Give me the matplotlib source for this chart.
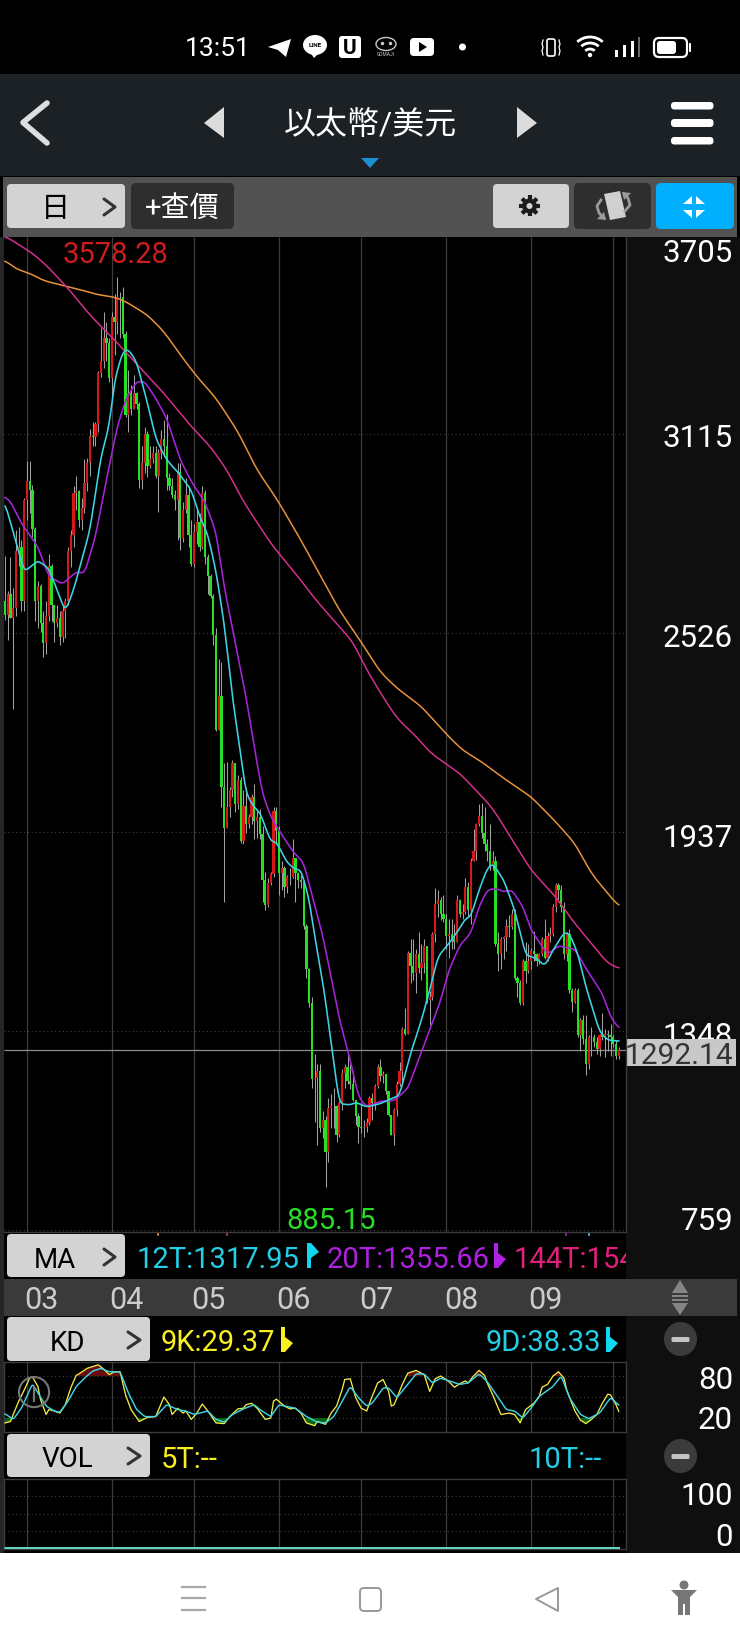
import numpy as np
import matplotlib
matplotlib.use("Agg")
import matplotlib.pyplot as plt
from matplotlib.patches import FancyBboxPatch, Rectangle, Polygon, Circle, Arc, Ellipse

plt.rcParams['font.family'] = ['Roboto', 'Noto Sans CJK TC', 'DejaVu Sans']

W, H = 740, 1644
DPI = 100

# daily candles, Feb 21 -> Oct 3
opens = [
    2620, 2578, 2640, 2570, 2600, 2770, 2780, 2620,
    2920, 2975, 2950, 2835, 2620, 2665, 2555, 2495, 2575, 2725, 2610, 2555, 2570, 2515, 2590, 2620, 2770, 2815, 2940, 2945, 2860, 2895, 2970, 3030, 3110, 3105, 3145, 3295, 3330, 3400, 3385,
    3280, 3460, 3445, 3520, 3520, 3410, 3170, 3235, 3190, 3235, 3205, 2980, 3030, 3115, 3020, 3040, 3060, 2990, 3060, 3100, 3080, 2985, 2960, 2935, 2920, 3003, 2806, 2890, 2935, 2815,
    2730, 2825, 2855, 2780, 2940, 2750, 2695, 2635, 2520, 2240, 2340, 2070, 1950, 2010, 2060, 2140, 2020, 2090, 1910, 2015, 1960, 1980, 2040, 1970, 1980, 1930, 1795, 1720, 1785, 1812, 2000,
    1940, 1815, 1830, 1775, 1805, 1805, 1860, 1815, 1795, 1790, 1660, 1530, 1430, 1205, 1210, 1230, 1060, 1085, 990, 1120, 1125, 1125, 1040, 1135, 1225, 1240, 1200, 1190, 1145, 1095,
    1065, 1060, 1065, 1075, 1150, 1135, 1185, 1240, 1215, 1220, 1170, 1100, 1040, 1115, 1190, 1230, 1355, 1340, 1580, 1540, 1520, 1575, 1535, 1550, 1600, 1440, 1450, 1635, 1725, 1735, 1695,
    1680, 1630, 1635, 1620, 1610, 1735, 1695, 1700, 1775, 1705, 1850, 1880, 1960, 1985, 1935, 1900, 1880, 1835, 1850, 1605, 1575, 1620, 1625, 1660, 1655, 1695, 1505, 1490, 1430, 1555, 1525,
    1555, 1585, 1575, 1555, 1575, 1620, 1565, 1630, 1635, 1715, 1780, 1765, 1715, 1575, 1635, 1470, 1435, 1470, 1335, 1380, 1325, 1250, 1330, 1330, 1315, 1295, 1335, 1330, 1340, 1335,
    1330, 1310, 1275,
]
closes = [
    2578, 2640, 2570, 2600, 2770, 2780, 2620, 2920,
    2975, 2950, 2835, 2620, 2665, 2555, 2495, 2575, 2725, 2610, 2555, 2570, 2515, 2590, 2620, 2770, 2815, 2940, 2945, 2860, 2895, 2970, 3030, 3110, 3105, 3145, 3295, 3330, 3400, 3385, 3280,
    3460, 3445, 3520, 3520, 3410, 3170, 3235, 3190, 3235, 3205, 2980, 3030, 3115, 3020, 3040, 3060, 2990, 3060, 3100, 3080, 2985, 2960, 2935, 2920, 3003, 2806, 2890, 2935, 2815, 2730,
    2825, 2855, 2780, 2940, 2750, 2695, 2635, 2520, 2240, 2340, 2070, 1950, 2010, 2060, 2140, 2020, 2090, 1910, 2015, 1960, 1980, 2040, 1970, 1980, 1930, 1795, 1720, 1785, 1812, 2000, 1940,
    1815, 1830, 1775, 1805, 1805, 1860, 1815, 1795, 1790, 1660, 1530, 1430, 1205, 1210, 1230, 1060, 1085, 990, 1120, 1125, 1125, 1040, 1135, 1225, 1240, 1200, 1190, 1145, 1095, 1065,
    1060, 1065, 1075, 1150, 1135, 1185, 1240, 1215, 1220, 1170, 1100, 1040, 1115, 1190, 1230, 1355, 1340, 1580, 1540, 1520, 1575, 1535, 1550, 1600, 1440, 1450, 1635, 1725, 1735, 1695, 1680,
    1630, 1635, 1620, 1610, 1735, 1695, 1700, 1775, 1705, 1850, 1880, 1960, 1985, 1935, 1900, 1880, 1835, 1850, 1605, 1575, 1620, 1625, 1660, 1655, 1695, 1505, 1490, 1430, 1555, 1525, 1555,
    1585, 1575, 1555, 1575, 1620, 1565, 1630, 1635, 1715, 1780, 1765, 1715, 1575, 1635, 1470, 1435, 1470, 1335, 1380, 1325, 1250, 1330, 1330, 1315, 1295, 1335, 1330, 1340, 1335, 1330,
    1310, 1275, 1292.14,
]
highs = [
    2755, 2650, 2750, 2660, 2830, 2840, 2800, 2925,
    3035, 3035, 2965, 2840, 2680, 2670, 2590, 2620, 2760, 2730, 2610, 2610, 2590, 2610, 2630, 2780, 2830, 2960, 2990, 2950, 2925, 3040, 3045, 3130, 3150, 3150, 3300, 3430, 3477, 3445, 3400,
    3475, 3530, 3578.28, 3536, 3551, 3420, 3305, 3260, 3290, 3240, 3210, 3078, 3137, 3125, 3078, 3078, 3078, 3070, 3127, 3157, 3175, 3000, 2985, 2950, 3030, 3030, 2915, 2985, 2960, 2860,
    2850, 2890, 2880, 2960, 2950, 2760, 2700, 2640, 2540, 2450, 2440, 2140, 2145, 2070, 2150, 2140, 2105, 2100, 2060, 2060, 1990, 2050, 2080, 2000, 2005, 1955, 1820, 1800, 1820, 2010, 2010,
    1955, 1850, 1835, 1810, 1830, 1915, 1860, 1820, 1810, 1795, 1665, 1535, 1450, 1280, 1250, 1250, 1110, 1095, 1150, 1160, 1180, 1130, 1140, 1235, 1250, 1280, 1250, 1230, 1140, 1105,
    1135, 1085, 1090, 1155, 1165, 1190, 1250, 1265, 1230, 1220, 1170, 1100, 1120, 1200, 1255, 1360, 1415, 1585, 1620, 1620, 1590, 1640, 1605, 1620, 1600, 1465, 1640, 1772, 1765, 1745, 1750,
    1695, 1680, 1680, 1665, 1750, 1740, 1725, 1800, 1790, 1860, 1945, 1965, 2020, 2022, 2010, 1915, 1960, 1880, 1865, 1640, 1625, 1630, 1680, 1690, 1710, 1710, 1510, 1500, 1560, 1610, 1605,
    1595, 1645, 1580, 1580, 1625, 1680, 1640, 1655, 1725, 1785, 1785, 1780, 1730, 1640, 1650, 1475, 1475, 1475, 1385, 1395, 1395, 1335, 1360, 1340, 1330, 1340, 1400, 1355, 1350, 1370,
    1335, 1320, 1300,
]
lows = [
    2565, 2505, 2570, 2300, 2575, 2725, 2590, 2590,
    2860, 2880, 2810, 2560, 2540, 2530, 2455, 2465, 2560, 2560, 2500, 2545, 2490, 2500, 2510, 2610, 2720, 2780, 2890, 2840, 2830, 2880, 2945, 2990, 3080, 3080, 3120, 3285, 3310, 3330, 3270,
    3216, 3350, 3410, 3400, 3400, 3166, 3120, 3170, 3190, 3190, 2954, 2951, 3000, 2989, 3015, 3030, 2985, 2885, 3040, 3050, 2949, 2950, 2925, 2890, 2801, 2772, 2795, 2880, 2780, 2725,
    2720, 2790, 2770, 2775, 2730, 2640, 2630, 2490, 2235, 2240, 2010, 1731, 1950, 1980, 2040, 1995, 2005, 1905, 1900, 1935, 1950, 1960, 1915, 1920, 1915, 1730, 1705, 1715, 1780, 1805, 1900,
    1750, 1765, 1745, 1755, 1780, 1800, 1730, 1770, 1770, 1650, 1505, 1420, 1180, 1078, 1011, 1050, 1030, 885.15, 960, 1060, 1060, 1020, 1035, 1115, 1180, 1190, 1175, 1140, 1070, 1015,
    1045, 1035, 1050, 1070, 1085, 1115, 1180, 1200, 1195, 1160, 1095, 1040, 1010, 1095, 1185, 1195, 1335, 1340, 1490, 1500, 1460, 1520, 1500, 1520, 1430, 1365, 1440, 1610, 1685, 1675, 1670,
    1590, 1565, 1590, 1590, 1610, 1685, 1680, 1695, 1685, 1665, 1850, 1855, 1955, 1920, 1880, 1850, 1825, 1825, 1600, 1525, 1530, 1560, 1585, 1625, 1650, 1500, 1450, 1425, 1425, 1490, 1520,
    1530, 1555, 1540, 1545, 1570, 1560, 1555, 1610, 1630, 1700, 1730, 1700, 1560, 1555, 1460, 1405, 1430, 1330, 1290, 1310, 1217, 1235, 1275, 1300, 1280, 1275, 1320, 1270, 1290, 1275,
    1300, 1265, 1265,
]

# moving averages
ma12_days = [0, 4, 7, 12, 16, 22, 25, 27, 31, 35, 38, 40, 43, 45, 48, 52, 55, 59, 63, 68, 71, 74, 77, 80, 83, 86, 88, 91, 93, 97, 99, 103, 106, 108, 111, 113, 116, 119, 122, 126, 128, 132, 137, 144, 148, 152, 155, 158, 162, 166, 168, 170, 173, 176, 178, 182, 186, 190, 194, 197, 200, 204, 206, 209, 212, 217, 220, 224]
ma12_vals = [2910, 2796, 2707, 2740, 2717, 2589, 2653, 2712, 2831, 3048, 3137, 3275, 3359, 3366, 3329, 3206, 3102, 3038, 3003, 2949, 2872, 2818, 2709, 2553, 2336, 2166, 2050, 2009, 1996, 1908, 1908, 1846, 1826, 1826, 1738, 1629, 1493, 1316, 1133, 1129, 1137, 1123, 1133, 1158, 1281, 1380, 1469, 1568, 1607, 1652, 1681, 1686, 1765, 1829, 1844, 1795, 1706, 1573, 1563, 1540, 1587, 1639, 1637, 1578, 1479, 1346, 1321, 1318]
ma20_days = [0, 2, 6, 9, 12, 16, 21, 26, 29, 33, 37, 41, 44, 48, 51, 55, 59, 64, 68, 73, 77, 80, 84, 88, 91, 94, 97, 100, 105, 109, 112, 116, 119, 122, 126, 129, 132, 137, 142, 147, 152, 155, 159, 162, 166, 170, 173, 176, 179, 182, 185, 189, 192, 197, 198, 202, 208, 212, 218, 221, 224]
ma20_vals = [2929, 2915, 2850, 2816, 2781, 2693, 2671, 2707, 2702, 2811, 2979, 3137, 3216, 3270, 3270, 3221, 3161, 3038, 2974, 2913, 2825, 2662, 2499, 2336, 2186, 2050, 1982, 1942, 1880, 1846, 1751, 1629, 1507, 1384, 1262, 1153, 1123, 1140, 1142, 1178, 1286, 1350, 1439, 1528, 1602, 1637, 1716, 1765, 1770, 1760, 1765, 1716, 1647, 1587, 1575, 1600, 1590, 1533, 1459, 1390, 1356]
ma144_days = [0, 10, 15, 23, 31, 40, 49, 58, 68, 75, 81, 87, 97, 108, 113, 127, 132, 138, 143, 150, 155, 159, 166, 173, 178, 184, 192, 201, 207, 215, 220, 224]
ma144_vals = [3701, 3650, 3615, 3546, 3467, 3393, 3314, 3235, 3137, 3077, 3008, 2915, 2791, 2682, 2628, 2499, 2417, 2336, 2274, 2220, 2173, 2150, 2110, 2051, 2007, 1928, 1824, 1745, 1676, 1597, 1548, 1533]
long_ma_days = [0, 4, 9, 14, 23, 27, 34, 40, 44, 52, 58, 64, 70, 77, 85, 92, 99, 107, 116, 122, 130, 137, 143, 152, 161, 167, 173, 182, 192, 201, 208, 214, 224]
long_ma_vals = [3630, 3603, 3591, 3569, 3551, 3543, 3527, 3520, 3507, 3467, 3418, 3349, 3285, 3221, 3122, 3008, 2925, 2815, 2682, 2594, 2499, 2410, 2363, 2308, 2227, 2179, 2150, 2096, 2041, 1967, 1903, 1814, 1716]

# KD
k_days = [0, 2, 3, 5, 7, 9, 10, 12, 13, 15, 16, 18, 20, 22, 24, 26, 27, 30, 34, 36, 38, 40, 42, 44, 46, 49, 52, 55, 58, 60, 61, 63, 65, 66, 68, 70, 72, 74, 77, 80, 82, 85, 87, 88, 90, 92, 95, 97, 98, 99, 102, 104, 106, 108, 110, 113, 114, 117, 119, 121, 123, 124, 126, 128, 130, 132, 134, 136, 138, 140, 141, 142, 145, 147, 150, 153, 155, 157, 159, 162, 164, 166, 168, 169, 171, 173, 175, 176, 178, 180, 181, 184, 186, 188, 190, 193, 195, 196, 198, 200, 202, 204, 205, 208, 210, 212, 214, 216, 218, 220, 221, 223, 224]
k_vals = [13, 15, 25, 44, 60, 77, 79, 65, 46, 25, 32, 30, 27, 39, 63, 81, 83, 91, 96, 90, 82, 86, 86, 53, 32, 15, 21, 22, 50, 39, 25, 34, 27, 30, 18, 27, 40, 30, 13, 12, 22, 33, 34, 39, 41, 34, 18, 20, 44, 47, 37, 33, 34, 27, 13, 9, 15, 11, 27, 37, 60, 75, 76, 49, 34, 30, 51, 70, 75, 58, 37, 39, 68, 84, 88, 82, 58, 76, 80, 72, 64, 69, 73, 70, 80, 88, 81, 70, 53, 34, 25, 27, 25, 13, 32, 41, 51, 64, 68, 80, 86, 77, 60, 30, 17, 12, 18, 25, 41, 54, 53, 39, 29.37]
d_days = [0, 3, 6, 9, 10, 12, 15, 18, 20, 23, 26, 29, 32, 35, 38, 42, 45, 48, 51, 55, 59, 63, 66, 69, 74, 77, 80, 83, 87, 91, 93, 97, 100, 102, 106, 110, 114, 117, 120, 123, 126, 129, 132, 134, 138, 140, 143, 147, 150, 153, 156, 159, 162, 166, 169, 173, 176, 180, 183, 186, 189, 192, 195, 200, 203, 206, 210, 213, 217, 221, 224]
d_vals = [26, 18, 34, 60, 69, 56, 37, 30, 28, 44, 65, 77, 87, 91, 86, 86, 56, 32, 22, 22, 39, 32, 30, 25, 30, 18, 14, 25, 33, 39, 32, 22, 39, 37, 34, 22, 14, 13, 22, 44, 65, 49, 37, 41, 63, 63, 49, 68, 83, 83, 70, 77, 73, 68, 70, 83, 72, 49, 32, 30, 20, 34, 51, 65, 80, 49, 25, 19, 27, 49, 38.33]

vol_days = [0, 224]
vol_vals = [0, 0]

month_days = [8, 39, 69, 100, 130, 161, 192, 222]
month_labels = ['03', '04', '05', '06', '07', '08', '09']
price_ticks = [3705, 3115, 2526, 1937, 1348, 759]
last_price = 1292.14

RED = '#d81818'
GREEN = '#25e025'
WICK = '#a0a0a0'
GRID = '#3c3c3c'
CYAN = '#3fd4e4'
PURPLE = '#a824d8'
PINK = '#d32f8c'
ORANGE = '#e8913a'
YELLOW = '#f0ea44'
LIGHT = '#d3d3d3'
PANEL = '#0f0f0f'

fig = plt.figure(figsize=(W / DPI, H / DPI), dpi=DPI, facecolor='black')


def axes_at(x0, y0, x1, y1, zorder=1):
    ax = fig.add_axes([x0 / W, 1 - y1 / H, (x1 - x0) / W, (y1 - y0) / H], zorder=zorder)
    ax.set_facecolor('black')
    ax.tick_params(left=False, bottom=False, labelleft=False, labelbottom=False)
    for s in ax.spines.values():
        s.set_color(GRID)
        s.set_linewidth(1.0)
    return ax


def smooth(line_days, line_vals, width=2.5):
    # the app draws these as soft curves, so round the corners between the read points
    grid = np.arange(line_days[0], line_days[-1] + 0.25, 0.25)
    y = np.interp(grid, line_days, line_vals)
    n = int(width / 0.25)
    kernel = np.hanning(2 * n + 1)
    kernel /= kernel.sum()
    padded = np.concatenate([np.full(n, y[0]), y, np.full(n, y[-1])])
    return grid, np.convolve(padded, kernel, mode='valid')


# layer for everything that is not a chart, in pixel coordinates
ui = fig.add_axes([0, 0, 1, 1], zorder=0)
ui.set_xlim(0, W)
ui.set_ylim(H, 0)
ui.axis('off')


def box(x0, y0, x1, y1, color, r=5, z=2, **kw):
    p = FancyBboxPatch((x0 + r, y0 + r), x1 - x0 - 2 * r, y1 - y0 - 2 * r,
                       boxstyle=f'round,pad={r},rounding_size={r}', fc=color, ec='none', zorder=z, **kw)
    ui.add_patch(p)
    return p


def rect(x0, y0, x1, y1, color, z=1):
    ui.add_patch(Rectangle((x0, y0), x1 - x0, y1 - y0, fc=color, ec='none', zorder=z))


def label(x, y, s, size, color='white', ha='center', z=5, **kw):
    return ui.text(x, y, s, fontsize=size, color=color, ha=ha, va='center_baseline', zorder=z, **kw)


def poly(points, color, z=4):
    ui.add_patch(Polygon(points, closed=True, fc=color, ec='none', zorder=z))


def chevron(x0, x1, y0, y1, color='#333333', lw=2.2, z=5):
    ui.plot([x0, x1, x0], [y0, (y0 + y1) / 2, y1], color=color, lw=lw, zorder=z, solid_capstyle='round')


def flag(x, y0, y1, color, up=True):
    # little arrow flag that follows the MA / KD values
    rect(x, y0, x + 4, y1, color, z=4)
    if up:
        poly([(x + 4, y0), (x + 12, y0 + 9), (x + 4, y0 + 15)], color)
    else:
        poly([(x + 4, y1 - 15), (x + 12, y1 - 9), (x + 4, y1)], color)


def minus_button(cx, cy):
    ui.add_patch(Ellipse((cx, cy), 33, 34, fc='#3b3b3b', ec='none', zorder=4))
    box(cx - 9, cy - 2, cx + 9, cy + 3, '#c4c4c4', r=1.5, z=5)


# ---- backgrounds ----
rect(0, 74, W, 176, '#1b2125')
rect(3, 177, 737, 237, '#525252')
rect(0, 237, 4, 1553, '#262626')
rect(626, 237, W, 1553, PANEL, z=3)
rect(4, 1279, 737, 1316, '#3a3a3a', z=4)
rect(0, 1553, W, H, 'white', z=3)

# ---- status bar ----
label(218, 47, '13:51', 19)
poly([(268, 47), (291, 39), (286, 57), (278, 50)], 'white')
ui.add_patch(Ellipse((315, 45), 24, 20, fc='white', ec='none', zorder=4))
poly([(310, 52), (320, 52), (314, 58)], 'white')
label(315, 45, 'LINE', 4.5, 'black', fontweight='bold')
box(339, 36, 361, 58, 'white', r=3, z=4)
label(350, 47, 'U', 15, 'black', fontweight='bold')
ui.add_patch(Ellipse((386, 44), 20, 13, fc='none', ec='#c8c8c8', lw=1, zorder=4))
ui.plot([382, 390], [43, 43], ls='none', marker='o', ms=1.5, color='#c8c8c8', zorder=5)
label(386, 54, 'GOMAJI', 3.5, '#c8c8c8')
box(410, 38, 434, 56, 'white', r=4, z=4)
poly([(419, 42), (419, 52), (427, 47)], 'black', z=5)
ui.add_patch(Circle((462.5, 47), 3.5, fc='white', ec='none', zorder=4))
ui.add_patch(FancyBboxPatch((547, 39), 8, 17, boxstyle='round,pad=0,rounding_size=2', fc='none', ec='white', lw=1.2, zorder=4))
ui.plot([543, 542, 543, 542, 543], [40, 44, 47, 51, 55], color='white', lw=0.9, zorder=4)
ui.plot([559, 560, 559, 560, 559], [40, 44, 47, 51, 55], color='white', lw=0.9, zorder=4)
for r in (7, 13, 19):
    ui.add_patch(Arc((590, 56), 2 * r, 2 * r, theta1=228, theta2=312, ec='white', lw=2, zorder=4))
ui.add_patch(Circle((590, 55), 2.2, fc='white', ec='none', zorder=4))
rect(615, 50, 617.5, 57, 'white', z=4)
rect(623, 45, 625.5, 57, 'white', z=4)
rect(631, 41, 633.5, 57, 'white', z=4)
rect(638, 37, 640, 57, '#666666', z=4)
ui.add_patch(FancyBboxPatch((654, 38), 33, 19, boxstyle='round,pad=0,rounding_size=5', fc='none', ec='white', lw=1.6, zorder=4))
box(657, 41, 676, 54, 'white', r=3, z=5)
box(689, 43, 691, 52, 'white', r=0.8, z=4)

# ---- header ----
ui.plot([47, 23, 47], [103, 122.5, 143], color='#dddddd', lw=4, solid_capstyle='round', solid_joinstyle='round', zorder=4)
poly([(224, 107), (204, 123), (224, 138)], '#dcdcdc')
poly([(517, 107), (537, 123), (517, 138)], '#dcdcdc')
label(370, 122, '以太幣/美元', 23)
for y0, y1 in [(102, 109.5), (119, 127), (137, 144.5)]:
    box(671, y0, 713.5, y1, 'white', r=3.5, z=4)
poly([(361, 158), (379, 158), (370, 168)], '#1e8fd0')

# ---- toolbar ----
box(7, 184, 125, 228, LIGHT, r=4)
label(55, 206, '日', 21, 'black')
chevron(104, 115, 199, 215)
box(131, 183, 234, 229, '#2e2e2e', r=5)
label(182, 206, '+查價', 21)
box(493, 184, 569, 228, LIGHT, r=4)
# gear
for a in np.deg2rad(np.arange(0, 180, 45)):
    dx, dy = 10.5 * np.cos(a), 10.5 * np.sin(a)
    ui.plot([529.5 - dx, 529.5 + dx], [206 - dy, 206 + dy], color='#1c1c1c', lw=3, zorder=4, solid_capstyle='butt')
ui.add_patch(Circle((529.5, 206), 7.5, fc='#1c1c1c', ec='none', zorder=5))
ui.add_patch(Circle((529.5, 206), 3, fc=LIGHT, ec='none', zorder=6))
box(574, 183, 651, 229, '#2e2e2e', r=5)
poly([(604, 194), (620, 191), (626, 217), (610, 220)], '#d0d0d0')
ui.plot([601, 597, 599, 604], [200, 206, 213, 218], color='#9a9a9a', lw=2, zorder=4)
ui.plot([625, 630, 628, 624], [211, 205, 198, 194], color='#9a9a9a', lw=2, zorder=4)
poly([(597, 219), (606, 220), (604, 212)], '#9a9a9a')
poly([(631, 193), (622, 192), (624, 200)], '#9a9a9a')
box(656, 183, 734, 229, '#00b0ff', r=5)
poly([(683, 204), (692, 204), (692, 196)], 'white')
poly([(705, 204), (696, 204), (696, 196)], 'white')
poly([(683, 210), (692, 210), (692, 218)], 'white')
poly([(705, 210), (696, 210), (696, 218)], 'white')

# ---- main chart ----
days = np.arange(len(closes))
xlim = (-0.37, 226.64)
price = axes_at(4, 237, 626, 1232)
price.set_xlim(xlim)
price.set_ylim(753, 3698)
price.spines['top'].set_visible(False)
price.spines['left'].set_visible(False)
price.vlines(month_days, 753, 3698, color=GRID, lw=0.9, zorder=1)
price.hlines(price_ticks[1:], *xlim, color=GRID, lw=0.8, linestyles=(0, (1, 2.5)), zorder=1)
price.hlines(last_price, *xlim, color='#8e8e8e', lw=0.9, zorder=2)

o = np.array(opens)
c = np.array(closes)
price.vlines(days, lows, highs, color=WICK, lw=0.75, zorder=3)
up = c >= o
price.bar(days[up], (c - o)[up], bottom=o[up], width=0.82, color=RED, lw=0, zorder=4)
price.bar(days[~up], (o - c)[~up], bottom=c[~up], width=0.82, color=GREEN, lw=0, zorder=4)

price.plot(*smooth(long_ma_days, long_ma_vals, 4), color=ORANGE, lw=1.1, zorder=5)
price.plot(*smooth(ma144_days, ma144_vals, 4), color=PINK, lw=1.1, zorder=5)
price.plot(*smooth(ma20_days, ma20_vals, 2), color=PURPLE, lw=1.15, zorder=6)
price.plot(*smooth(ma12_days, ma12_vals, 2), color=CYAN, lw=1.15, zorder=7)

price.annotate('3578.28', xy=(41, 3578.28), xytext=(-2, 25), textcoords='offset pixels',
               color='#d01c1c', fontsize=21, ha='center', va='center_baseline', zorder=8)
price.annotate('885.15', xy=(117, 885.15), xytext=(6, -31), textcoords='offset pixels',
               color=GREEN, fontsize=21, ha='center', va='center_baseline', zorder=8)

# price scale on the right, top and bottom labels are pushed inside the chart
for tick, y in zip(price_ticks, [251, 435, 635, 835, 1033, 1218]):
    label(733, y, str(tick), 22.5, ha='right', z=6)
rect(626, 1039, 736, 1066, '#c8c8c8', z=7)
label(733, 1053, f'{last_price:.2f}', 21.5, '#333333', ha='right', z=8)

# small marks the MA lines leave under the chart
for x, col in [(158, ORANGE), (227, PINK), (566, PURPLE), (589, CYAN)]:
    ui.plot([x, x], [1232, 1235], color=col, lw=1.2, zorder=4)

# ---- MA row ----
box(7, 1234, 125, 1277, LIGHT, r=4)
label(55, 1257, 'MA', 20, 'black')
chevron(104, 115, 1249, 1265)
label(137, 1257, '12T:1317.95', 21, '#22cfe6', ha='left', z=2)
flag(307, 1243, 1268, '#10d8f0', up=True)
label(326.5, 1257, '20T:1355.66', 21, '#b020e0', ha='left', z=2)
flag(494, 1243, 1268, '#b020e0', up=False)
label(514, 1257, '144T:154', 21, '#e0207a', ha='left', z=2)

# ---- date strip ----
strip = fig.add_axes([4 / W, 1 - 1316 / H, 622 / W, 37 / H], zorder=1)
strip.patch.set_alpha(0)
strip.axis('off')
strip.set_xlim(xlim)
strip.set_ylim(0, 1)
for d, t in zip(month_days, month_labels):
    strip.text(d + 5.4, 0.5, t, fontsize=22, color='#cccccc', ha='center', va='center_baseline')
poly([(672, 1293), (688, 1293), (680, 1280)], '#858585', z=5)
rect(672, 1294.5, 688, 1296.5, '#858585', z=5)
rect(672, 1298.5, 688, 1300.5, '#858585', z=5)
poly([(672, 1303), (688, 1303), (680, 1315)], '#858585', z=5)

# ---- KD ----
box(7, 1317, 150, 1361, LIGHT, r=4)
label(67, 1340, 'KD', 20, 'black')
chevron(128, 140, 1332, 1348)
label(161, 1340, '9K:29.37', 21, '#f8f020', ha='left')
flag(281, 1327, 1352, '#f8f020', up=False)
label(486, 1340, '9D:38.33', 21, '#22cfe6', ha='left')
flag(606, 1327, 1352, '#10d8f0', up=False)
minus_button(680.5, 1339)
label(733, 1377, '80', 22.5, ha='right')
label(733, 1417, '20', 22.5, ha='right')

kd = axes_at(4, 1362, 626, 1432)
kd.set_xlim(xlim)
kd.set_ylim(0, 100)
kd.vlines(month_days, 0, 100, color=GRID, lw=0.9, zorder=1)
kd.hlines([20, 50, 80], *xlim, color=GRID, lw=0.8, linestyles=(0, (1, 2.5)), zorder=1)
fine = np.linspace(0, 224, 1200)
k_fine = np.interp(fine, k_days, k_vals)
kd.fill_between(fine, 80, k_fine, where=k_fine > 80, color='#660d0d', lw=0, zorder=2)
kd.fill_between(fine, 20, k_fine, where=k_fine < 20, color='#0b6410', lw=0, zorder=2)
kd.plot(k_days, k_vals, color=YELLOW, lw=0.95, zorder=3)
kd.plot(*smooth(d_days, d_vals, 1), color=CYAN, lw=1.05, zorder=4)
kd.add_patch(Ellipse((10.6, 57), 11, 43, fc='none', ec='#777777', lw=1.5, zorder=5))
kd.plot([10.6, 10.6], [45, 65], color='#777777', lw=1.5, zorder=5)

# ---- VOL ----
box(7, 1434, 150, 1477, LIGHT, r=4)
label(67, 1456, 'VOL', 20, 'black')
chevron(128, 140, 1448, 1464)
label(161, 1457, '5T:--', 21, '#f8f020', ha='left')
label(528.5, 1457, '10T:--', 21, '#22cfe6', ha='left')
minus_button(680.5, 1456)
label(733, 1493, '100', 22.5, ha='right')
label(733, 1534, '0', 22.5, ha='right')

vol = axes_at(4, 1479, 626, 1549)
vol.set_xlim(xlim)
vol.set_ylim(-1.4, 100)
vol.vlines(month_days, -1.4, 100, color=GRID, lw=0.9, zorder=1)
vol.hlines([25, 50, 75], *xlim, color=GRID, lw=0.8, linestyles=(0, (1, 2.5)), zorder=1)
vol.plot(vol_days, vol_vals, color=YELLOW, lw=1.4, zorder=2)
vol.plot(vol_days, vol_vals, color=CYAN, lw=1.1, zorder=3)

# ---- android nav bar ----
for y in (1587, 1598, 1610):
    ui.plot([182, 205], [y, y], color='#a8a8a8', lw=1.6, zorder=5)
ui.add_patch(FancyBboxPatch((360, 1588), 21, 23, boxstyle='round,pad=0,rounding_size=4', fc='none', ec='#999999', lw=1.4, zorder=5))
ui.add_patch(Polygon([(558, 1588), (536, 1599), (558, 1611)], closed=True, fc='none', ec='#999999', lw=1.4, joinstyle='round', zorder=5))
ui.add_patch(Circle((684, 1585), 4.5, fc='#777777', ec='none', zorder=5))
poly([(671, 1590), (697, 1590), (690, 1597), (690, 1615), (678, 1615), (678, 1597)], '#777777', z=5)
rect(683, 1604, 685, 1616, 'white', z=6)

fig.savefig('out.png', dpi=DPI, facecolor='black')
